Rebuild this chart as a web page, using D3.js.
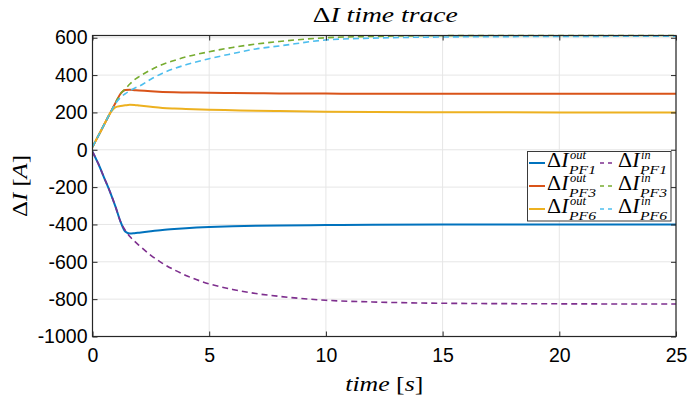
<!DOCTYPE html>
<html>
<head>
<meta charset="utf-8">
<script src="https://cdn.jsdelivr.net/npm/d3@7"></script>
<style>
  html, body { margin: 0; padding: 0; background: #ffffff; }
  svg { display: block; }
</style>
</head>
<body>
<svg id="chart" width="687" height="405"></svg>
<script>
// ---------------- DATA ----------------
const timeS = [0, 0.25, 0.5, 0.75, 1.0, 1.2, 1.4, 1.6, 1.8, 2.0, 2.5, 3, 3.5, 4, 5, 6, 7, 8, 10, 12, 15, 20, 25];
const outPF1 = [-10, -75, -150, -225, -310, -385, -438, -449, -447, -444, -436, -429, -424, -420, -414, -410, -407, -405, -403, -401, -400, -400, -400];
const outPF3 = [15, 75, 135, 195, 255, 300, 320, 321, 319, 317, 313, 310, 308, 307, 305, 304, 303, 302, 301, 300, 300, 300, 300];
const outPF6 = [15, 75, 135, 195, 228, 234, 238, 241, 240, 237, 230, 224, 221, 219, 215, 212, 209, 207, 204, 202, 201, 200, 200];
const inPF1 = [-10, -75, -150, -225, -310, -385, -430, -465, -490, -512, -565, -608, -643, -673, -718, -748, -770, -785, -806, -815, -822, -825, -826];
const inPF3 = [15, 75, 135, 195, 255, 300, 325, 352, 375, 392, 428, 457, 478, 497, 525, 548, 566, 580, 600, 607, 611, 612, 612];
const inPF6 = [15, 75, 135, 195, 250, 280, 300, 316, 330, 340, 378, 410, 435, 455, 488, 515, 540, 556, 588, 598, 604, 607, 608];

const xTicks = [0, 5, 10, 15, 20, 25];
const yTicks = [-1000, -800, -600, -400, -200, 0, 200, 400, 600];

const seriesList = [
  { values: outPF1, color: "#0072BD", dashed: false, sup: "out", sub: "PF1" },
  { values: outPF3, color: "#D95319", dashed: false, sup: "out", sub: "PF3" },
  { values: outPF6, color: "#EDB120", dashed: false, sup: "out", sub: "PF6" },
  { values: inPF1, color: "#7E2F8E", dashed: true, sup: "in", sub: "PF1" },
  { values: inPF3, color: "#77AC30", dashed: true, sup: "in", sub: "PF3" },
  { values: inPF6, color: "#4DBEEE", dashed: true, sup: "in", sub: "PF6" }
];

// ---------------- LAYOUT ----------------
const L = 92.5, R = 676, T = 35.5, B = 336.5;
const svg = d3.select("#chart");
const x = d3.scaleLinear().domain([0, 25]).range([L, R]);
const y = d3.scaleLinear().domain([-1000, 612]).range([B, T]);

const axisColor = "#262626";
const tickFont = "'Liberation Sans', Arial, Helvetica, sans-serif";
const mathFont = "'Liberation Serif', 'Times New Roman', serif";

svg.append("rect").attr("x", L).attr("y", T).attr("width", R - L).attr("height", B - T).attr("fill", "#fff");

// grid
const grid = svg.append("g");
grid.selectAll("line.gx").data(xTicks).join("line")
  .attr("x1", d => x(d)).attr("x2", d => x(d)).attr("y1", T).attr("y2", B)
  .attr("stroke", "#e6e6e6").attr("stroke-width", 1);
grid.selectAll("line.gy").data(yTicks).join("line")
  .attr("y1", d => y(d)).attr("y2", d => y(d)).attr("x1", L).attr("x2", R)
  .attr("stroke", "#e6e6e6").attr("stroke-width", 1);

// lines
const clipId = "plotclip";
svg.append("clipPath").attr("id", clipId).append("rect")
  .attr("x", L).attr("y", T - 2).attr("width", R - L).attr("height", B - T + 2);
const line = d3.line().x((d, i) => x(timeS[i])).y(d => y(d)).curve(d3.curveMonotoneX);
const lines = svg.append("g").attr("clip-path", `url(#${clipId})`);
seriesList.forEach(s => {
  lines.append("path").attr("d", line(s.values))
    .attr("fill", "none").attr("stroke", s.color)
    .attr("stroke-width", s.dashed ? 1.6 : 2)
    .attr("stroke-dasharray", s.dashed ? "6,4" : null)
    .attr("stroke-linejoin", "round");
});

// axes
const fmt = d => String(d);
function styleAxis(g) {
  g.select(".domain").remove();
  g.selectAll(".tick line").attr("stroke", axisColor).attr("stroke-width", 1);
  g.selectAll(".tick text").attr("fill", "#000").style("font-family", tickFont).style("font-size", "19.5px");
}
svg.append("g").attr("transform", `translate(0,${B})`)
  .call(d3.axisBottom(x).tickValues(xTicks).tickSize(-5).tickPadding(12).tickFormat(fmt))
  .call(styleAxis);
svg.append("g").attr("transform", `translate(0,${T})`)
  .call(d3.axisTop(x).tickValues(xTicks).tickSize(-5).tickFormat(""))
  .call(styleAxis);
svg.append("g").attr("transform", `translate(${L},0)`)
  .call(d3.axisLeft(y).tickValues(yTicks).tickSize(-5).tickPadding(5).tickFormat(fmt))
  .call(styleAxis);
svg.append("g").attr("transform", `translate(${R},0)`)
  .call(d3.axisRight(y).tickValues(yTicks).tickSize(-5).tickFormat(""))
  .call(styleAxis);
svg.selectAll("g text").filter(function () { return this.textContent === ""; }).remove();

// box
svg.append("rect").attr("x", L).attr("y", T).attr("width", R - L).attr("height", B - T)
  .attr("fill", "none").attr("stroke", axisColor).attr("stroke-width", 1.2);

// title
const title = svg.append("text").attr("x", (L + R) / 2 + 1).attr("y", 22)
  .attr("text-anchor", "middle").attr("textLength", 145).attr("lengthAdjust", "spacingAndGlyphs")
  .style("font-family", mathFont).style("font-size", "22px").attr("fill", "#000");
title.append("tspan").text("\u0394");
title.append("tspan").style("font-style", "italic").text("I time trace");

// x label
const xl = svg.append("text").attr("x", (L + R) / 2).attr("y", 391)
  .attr("text-anchor", "middle").attr("textLength", 78).attr("lengthAdjust", "spacingAndGlyphs")
  .style("font-family", mathFont).style("font-size", "22px").attr("fill", "#000");
xl.append("tspan").style("font-style", "italic").text("time ");
xl.append("tspan").text("[");
xl.append("tspan").style("font-style", "italic").text("s");
xl.append("tspan").text("]");

// y label
const yl = svg.append("text").attr("transform", `translate(27,${(T + B) / 2}) rotate(-90)`)
  .attr("text-anchor", "middle").attr("textLength", 62).attr("lengthAdjust", "spacingAndGlyphs")
  .style("font-family", mathFont).style("font-size", "22px").attr("fill", "#000");
yl.append("tspan").text("\u0394");
yl.append("tspan").style("font-style", "italic").text("I ");
yl.append("tspan").text("[");
yl.append("tspan").style("font-style", "italic").text("A");
yl.append("tspan").text("]");

// legend
const lg = svg.append("g");
const LX = 527.5, LY = 151.5, LW = 143.5, LH = 69.5;
lg.append("rect").attr("x", LX).attr("y", LY).attr("width", LW).attr("height", LH)
  .attr("fill", "#fff").attr("stroke", "#3a3a3a").attr("stroke-width", 1);
const colX = [529, 600];
const rowY = [166.5, 189.5, 212.5];
const supW = { out: 16, in: 9.5 };
seriesList.forEach((s, i) => {
  const c = Math.floor(i / 3), r = i % 3;
  const sx = colX[c], by = rowY[r];
  lg.append("line").attr("x1", sx).attr("x2", sx + 16).attr("y1", by - 3.5).attr("y2", by - 3.5)
    .attr("stroke", s.color).attr("stroke-width", s.dashed ? 1.6 : 2)
    .attr("stroke-dasharray", s.dashed ? "4,4" : null);
  const main = lg.append("text").attr("x", sx + 18).attr("y", by)
    .attr("textLength", 21.5).attr("lengthAdjust", "spacingAndGlyphs")
    .style("font-family", mathFont).style("font-size", "20px").attr("fill", "#000");
  main.append("tspan").text("\u0394");
  main.append("tspan").style("font-style", "italic").text("I");
  const w = 22;
  lg.append("text").attr("x", sx + 18 + w + 1).attr("y", by - 7.5)
    .attr("textLength", supW[s.sup]).attr("lengthAdjust", "spacingAndGlyphs")
    .style("font-family", mathFont).style("font-style", "italic").style("font-size", "12px").attr("fill", "#000")
    .text(s.sup);
  lg.append("text").attr("x", sx + 18 + w).attr("y", by + 7.5)
    .attr("textLength", 27).attr("lengthAdjust", "spacingAndGlyphs")
    .style("font-family", mathFont).style("font-style", "italic").style("font-size", "12px").attr("fill", "#000")
    .text(s.sub);
});
</script>
</body>
</html>
